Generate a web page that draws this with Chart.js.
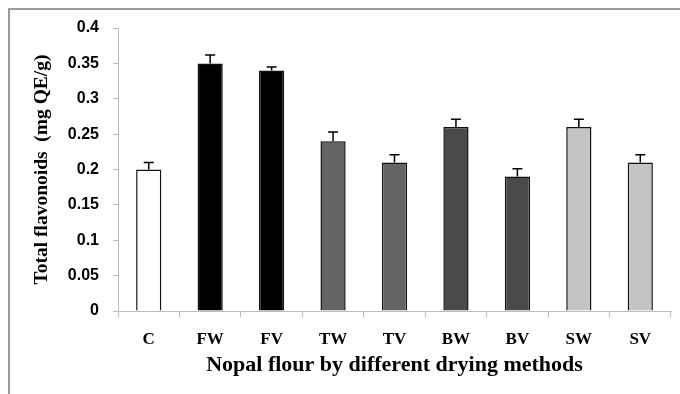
<!DOCTYPE html>
<html>
<head>
<meta charset="utf-8">
<script src="https://cdn.jsdelivr.net/npm/chart.js@4"></script>
<style>
  html, body { margin: 0; padding: 0; background: #fff; }
  #wrap { position: relative; width: 680px; height: 394px; overflow: hidden; }
  #frame { position: absolute; left: 8px; top: 8px; width: 700px; height: 420px;
           border-left: 2px solid #9a9a9a; border-top: 2px solid #9a9a9a; }
  canvas { position: absolute; left: 0; top: 0; }
</style>
</head>
<body>
<div id="wrap">
  <div id="frame"></div>
  <canvas id="chart" width="680" height="394"></canvas>
</div>
<script>
const labels = ['C', 'FW', 'FV', 'TW', 'TV', 'BW', 'BV', 'SW', 'SV'];
const values = [0.20, 0.35, 0.34, 0.24, 0.21, 0.26, 0.19, 0.26, 0.21];
const errors = [0.010, 0.012, 0.005, 0.013, 0.011, 0.011, 0.011, 0.011, 0.011];
const fills = ['#ffffff', '#000000', '#000000', '#646464', '#646464', '#4a4a4a', '#4a4a4a', '#c4c4c4', '#c4c4c4'];

// upward-only error bars with a small cap
const errorBars = {
  id: 'errorBars',
  afterDatasetsDraw(chart){
    const ctx = chart.ctx;
    const y = chart.scales.y;
    const meta = chart.getDatasetMeta(0);
    ctx.save();
    ctx.strokeStyle = '#000';
    ctx.lineWidth = 1.5;
    meta.data.forEach((bar, i) => {
      const top = y.getPixelForValue(values[i]);
      const cap = y.getPixelForValue(values[i] + errors[i]);
      ctx.beginPath();
      ctx.moveTo(bar.x, top);
      ctx.lineTo(bar.x, cap);
      ctx.moveTo(bar.x - 5, cap);
      ctx.lineTo(bar.x + 5, cap);
      ctx.stroke();
    });
    ctx.restore();
  }
};

new Chart(document.getElementById('chart'), {
  type: 'bar',
  data: {
    labels: labels,
    datasets: [{
      data: values,
      backgroundColor: fills,
      borderColor: '#111',
      borderWidth: 1.5,
      categoryPercentage: 1,
      barPercentage: 0.41
    }]
  },
  options: {
    responsive: false,
    animation: false,
    layout: { padding: { left: 30, right: 9, top: 28, bottom: 9 } },
    plugins: { legend: { display: false }, tooltip: { enabled: false } },
    scales: {
      x: {
        grid: { drawOnChartArea: false, color: '#bdbdbd', tickLength: 6, offset: true },
        border: { color: '#bdbdbd' },
        ticks: { color: '#000', padding: 12, font: { family: 'Liberation Serif', weight: 'bold', size: 17 } },
        title: {
          display: true,
          text: 'Nopal flour by different drying methods',
          color: '#000',
          padding: { top: 6, bottom: 6 },
          font: { family: 'Liberation Serif', weight: 'bold', size: 22 }
        },
        afterFit(scale){ scale.height = 74; }
      },
      y: {
        min: 0,
        max: 0.4,
        grid: { drawOnChartArea: false, color: '#bdbdbd', tickLength: 5 },
        border: { color: '#bdbdbd' },
        ticks: {
          stepSize: 0.05,
          color: '#000',
          padding: 14,
          font: { family: 'Liberation Sans', weight: 'bold', size: 16 },
          callback: v => String(Math.round(v * 100) / 100)
        },
        title: {
          display: true,
          text: 'Total flavonoids  (mg QE/g)',
          color: '#000',
          padding: { top: 0, bottom: 0 },
          font: { family: 'Liberation Serif', weight: 'bold', size: 19.5 }
        },
        afterFit(scale){ scale.width = 88; }
      }
    }
  },
  plugins: [errorBars]
});
</script>
</body>
</html>
